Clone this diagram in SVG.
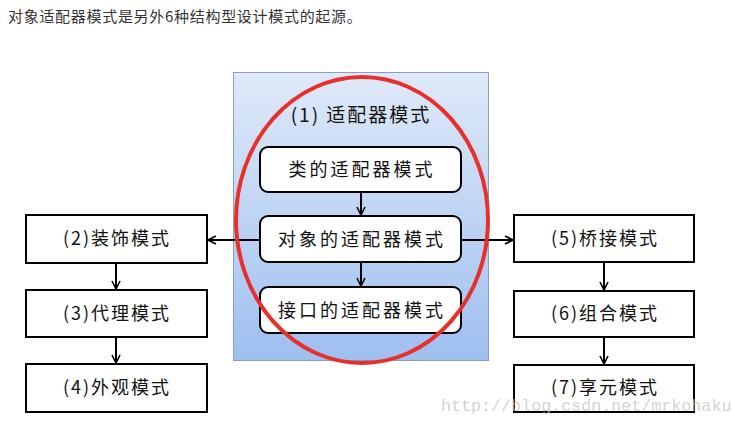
<svg xmlns="http://www.w3.org/2000/svg" width="732" height="446" viewBox="0 0 732 446">
<style>
text{font-family:"Microsoft YaHei","Noto Sans CJK SC","Liberation Sans",sans-serif;fill:#111}
.box{fill:#fff;stroke:#000;stroke-width:2}
.lbl{font-size:18px;text-anchor:middle;letter-spacing:2px}
.in{letter-spacing:3px}
.conn line{stroke:#000;stroke-width:2;marker-end:url(#ah)}
</style>
<defs>
<linearGradient id="bg" x1="0" y1="0" x2="0" y2="1">
<stop offset="0" stop-color="#dfe9f8"/>
<stop offset="1" stop-color="#9fbff0"/>
</linearGradient>
<marker id="ah" viewBox="0 0 10 10" refX="9" refY="5" markerWidth="5" markerHeight="5" orient="auto" markerUnits="strokeWidth">
<path d="M1,1 L9,5 L1,9" fill="none" stroke="#000" stroke-width="1.6"/>
</marker>
</defs>
<rect width="732" height="446" fill="#fff"/>
<text x="8" y="22" style="font-size:15px;letter-spacing:0.7px;fill:#333">对象适配器模式是另外6种结构型设计模式的起源。</text>
<g id="panel">
<rect x="233.5" y="72.5" width="255" height="288" fill="url(#bg)" stroke="#8a9fc0" stroke-width="1"/>
<text x="361" y="122" class="lbl" style="font-size:19px">(1)  适配器模式</text>
</g>
<g class="conn">
<line x1="361" y1="192" x2="361" y2="215"/>
<line x1="361" y1="262" x2="361" y2="286"/>
<line x1="260" y1="240" x2="208" y2="240"/>
<line x1="461" y1="240" x2="513" y2="240"/>
<line x1="116" y1="263" x2="116" y2="289"/>
<line x1="116" y1="337" x2="116" y2="363"/>
<line x1="604" y1="262" x2="604" y2="290"/>
<line x1="604" y1="337" x2="604" y2="364"/>
</g>
<g id="n1a"><rect class="box" x="260" y="147" width="201" height="45" rx="8"/><text class="lbl in" x="362" y="176">类的适配器模式</text></g>
<g id="n1b"><rect class="box" x="260" y="216" width="201" height="46" rx="8"/><text class="lbl in" x="362" y="246">对象的适配器模式</text></g>
<g id="n1c"><rect class="box" x="260" y="287" width="201" height="46" rx="8"/><text class="lbl in" x="362" y="317">接口的适配器模式</text></g>
<g id="n2"><rect class="box" x="26" y="215" width="181" height="48"/><text class="lbl" x="117" y="245">(2)装饰模式</text></g>
<g id="n3"><rect class="box" x="26" y="290" width="181" height="47"/><text class="lbl" x="117" y="320">(3)代理模式</text></g>
<g id="n4"><rect class="box" x="26" y="364" width="181" height="48"/><text class="lbl" x="117" y="394">(4)外观模式</text></g>
<g id="n5"><rect class="box" x="514" y="215" width="180" height="47"/><text class="lbl" x="605" y="245">(5)桥接模式</text></g>
<g id="n6"><rect class="box" x="514" y="291" width="180" height="46"/><text class="lbl" x="605" y="320">(6)组合模式</text></g>
<g id="n7"><rect class="box" x="514" y="365" width="180" height="47"/><text class="lbl" x="605" y="394">(7)享元模式</text></g>
<ellipse id="highlight" cx="362" cy="220" rx="126" ry="143" fill="none" stroke="#e8302a" stroke-width="4"/>
<text x="441" y="411" style="font-family:'Liberation Mono',monospace;font-size:16.7px;fill:#c8c8c8;fill-opacity:0.8">http://blog.csdn.net/mrkohaku</text>
</svg>
